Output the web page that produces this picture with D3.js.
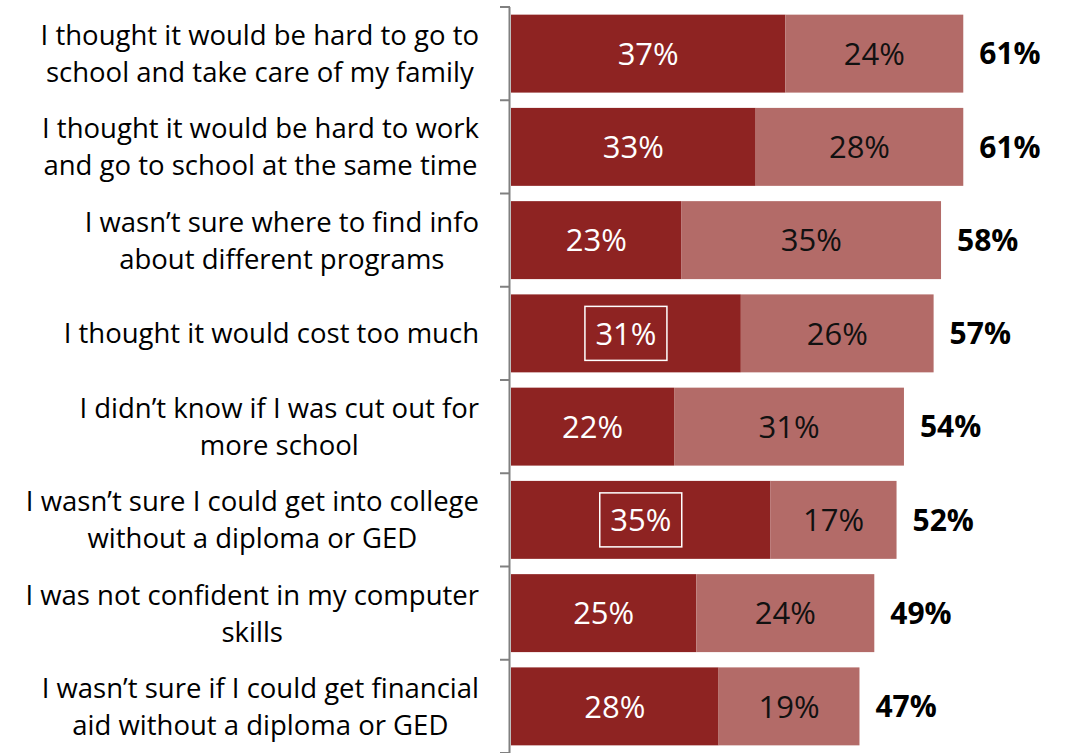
<!DOCTYPE html>
<html>
<head>
<meta charset="utf-8">
<script src="https://cdn.jsdelivr.net/npm/d3@7"></script>
<style>
  body { margin: 0; background: #fff; }
  text { font-family: "Open Sans", "Noto Sans", sans-serif; }
</style>
</head>
<body>
<div id="viz-container"></div>
<script>
let categories = [
  ["I thought it would be hard to go to", "school and take care of my family"],
  ["I thought it would be hard to work", "and go to school at the same time"],
  ["I wasn\u2019t sure where to find info", "about different programs"],
  ["I thought it would cost too much"],
  ["I didn\u2019t know if I was cut out for", "more school"],
  ["I wasn\u2019t sure I could get into college", "without a diploma or GED"],
  ["I was not confident in my computer", "skills"],
  ["I wasn\u2019t sure if I could get financial", "aid without a diploma or GED"]
];
let darkValues  = [37, 33, 23, 31, 22, 35, 25, 28];
let lightValues = [24, 28, 35, 26, 31, 17, 24, 19];
let totals      = [61, 61, 58, 57, 54, 52, 49, 47];
let boxed       = [false, false, false, true, false, true, false, false];

let W = 1074, H = 753;

let viz = d3.select("#viz-container")
  .append("svg")
    .attr("width", W)
    .attr("height", H);

let idx = d3.range(categories.length);

let x = d3.scaleLinear().domain([0, 70]).range([511, 1030]);
let y = d3.scaleBand().domain(idx).range([7, 753])
  .paddingInner(0.164).paddingOuter(0.082);

let step = y.step();
let half = step * y.paddingInner() / 2;

let rows = viz.selectAll("g.row").data(idx).enter()
  .append("g")
    .attr("class", "row");

// dark segment
rows.append("rect")
  .attr("x", x(0))
  .attr("y", d => y(d))
  .attr("width", d => x(darkValues[d]) - x(0))
  .attr("height", y.bandwidth())
  .attr("fill", "#8E2322");

// light segment
rows.append("rect")
  .attr("x", d => x(darkValues[d]))
  .attr("y", d => y(d))
  .attr("width", d => x(darkValues[d] + lightValues[d]) - x(darkValues[d]))
  .attr("height", y.bandwidth())
  .attr("fill", "#B36B68");

// dark labels
rows.append("text")
  .attr("x", d => (x(0) + x(darkValues[d])) / 2)
  .attr("y", d => y(d) + y.bandwidth() / 2)
  .attr("dy", "0.36em")
  .attr("text-anchor", "middle")
  .attr("fill", "#fff")
  .attr("font-size", 31)
  .text(d => darkValues[d] + "%");

// boxes around some dark labels
rows.filter(d => boxed[d]).append("rect")
  .attr("x", d => (x(0) + x(darkValues[d])) / 2 - 41)
  .attr("y", d => y(d) + y.bandwidth() / 2 - 27)
  .attr("width", 82)
  .attr("height", 54)
  .attr("fill", "none")
  .attr("stroke", "#fff")
  .attr("stroke-width", 1.5);

// light labels
rows.append("text")
  .attr("x", d => (x(darkValues[d]) + x(darkValues[d] + lightValues[d])) / 2)
  .attr("y", d => y(d) + y.bandwidth() / 2)
  .attr("dy", "0.36em")
  .attr("text-anchor", "middle")
  .attr("fill", "#111")
  .attr("font-size", 31)
  .text(d => lightValues[d] + "%");

// totals
rows.append("text")
  .attr("x", d => x(darkValues[d] + lightValues[d]) + 16)
  .attr("y", d => y(d) + y.bandwidth() / 2)
  .attr("dy", "0.36em")
  .attr("fill", "#000")
  .attr("font-size", 30)
  .attr("font-weight", "bold")
  .text(d => totals[d] + "%");

// category labels: lines centered in a block right-aligned at 479
let lineH = 37;
rows.each(function(d) {
  let g = d3.select(this);
  let lines = categories[d];
  let cy = y(d) + y.bandwidth() / 2;
  let texts = lines.map((ln, i) => g.append("text")
    .attr("y", cy + (i - (lines.length - 1) / 2) * lineH)
    .attr("dy", "0.36em")
    .attr("text-anchor", "middle")
    .attr("fill", "#000")
    .attr("font-size", 27.5)
    .text(ln));
  let widest = d3.max(texts, t => t.node().getComputedTextLength());
  texts.forEach(t => t.attr("x", 479 - widest / 2));
});

// axis line and ticks at category boundaries
viz.append("line")
  .attr("x1", 509.5).attr("x2", 509.5)
  .attr("y1", y(0) - half).attr("y2", H)
  .attr("stroke", "#808080")
  .attr("stroke-width", 2);

viz.selectAll("line.tick").data(d3.range(categories.length + 1)).enter()
  .append("line")
    .attr("class", "tick")
    .attr("x1", 500).attr("x2", 510)
    .attr("y1", d => y(0) - half + d * step)
    .attr("y2", d => y(0) - half + d * step)
    .attr("stroke", "#808080")
    .attr("stroke-width", 2);
</script>
</body>
</html>
